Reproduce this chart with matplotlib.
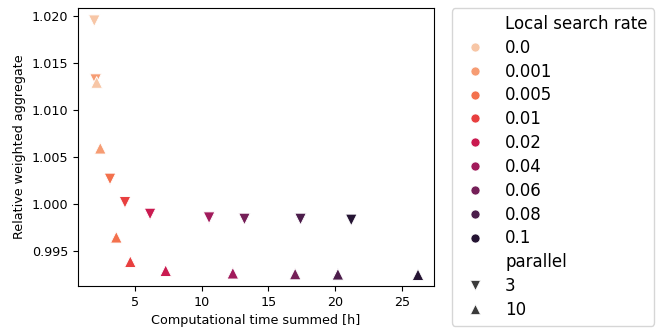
import matplotlib
matplotlib.use("Agg")
import matplotlib.pyplot as plt
from matplotlib.lines import Line2D
import seaborn as sns
import pandas as pd

rates = ["0.0", "0.001", "0.005", "0.01", "0.02", "0.04", "0.06", "0.08", "0.1"]
time_p3 = [1.95, 2.05, 3.13, 4.25, 6.13, 10.55, 13.2, 17.4, 21.2]
agg_p3 = [1.01947, 1.0132, 1.00263, 1.00015, 0.9989, 0.99851, 0.99837, 0.99837, 0.99827]
time_p10 = [2.13, 2.4, 3.6, 4.65, 7.3, 12.33, 17.0, 20.2, 26.2]
agg_p10 = [1.0129, 1.0059, 0.99643, 0.99383, 0.99287, 0.9926, 0.99252, 0.99249, 0.99245]
parallel_levels = ["3", "10"]

df = pd.DataFrame({
    "time": time_p3 + time_p10,
    "agg": agg_p3 + agg_p10,
    "Local search rate": rates + rates,
    "parallel": [parallel_levels[0]] * len(rates) + [parallel_levels[1]] * len(rates),
})

palette = sns.color_palette("rocket_r", len(rates))
markers = {"3": "v", "10": "^"}

fig = plt.figure(figsize=(6.57, 3.30), dpi=100)
ax = fig.add_axes([0.1187, 0.1333, 0.5419, 0.8415])
sns.scatterplot(data=df, x="time", y="agg", hue="Local search rate", style="parallel",
                markers=markers, palette=palette, s=70, ax=ax,
                hue_order=rates, style_order=parallel_levels, legend=False)
ax.set_xlabel("Computational time summed [h]", fontsize=9.2)
ax.set_ylabel("Relative weighted aggregate", fontsize=9.2)
ax.set_xlim(0.73, 27.4)
ax.set_ylim(0.99124, 1.02079)
ax.set_xticks([5, 10, 15, 20, 25])
ax.set_yticks([0.995, 1.000, 1.005, 1.010, 1.015, 1.020])
ax.tick_params(labelsize=9.2)

handles = [Line2D([], [], linestyle="", marker="")]
labels = ["Local search rate"]
for r, c in zip(rates, palette):
    handles.append(Line2D([], [], linestyle="", marker="o", markersize=6.5, color=c, markeredgecolor="white", markeredgewidth=0.5))
    labels.append(r)
handles.append(Line2D([], [], linestyle="", marker=""))
labels.append("parallel")
for p in parallel_levels:
    handles.append(Line2D([], [], linestyle="", marker=markers[p], markersize=6.5, color="#3b3b3b", markeredgecolor="white", markeredgewidth=0.5))
    labels.append(p)

ax.legend(handles, labels, loc="upper left", bbox_to_anchor=(1.05, 1.0), fontsize=12,
          borderaxespad=0, labelspacing=0.35)
fig.savefig("out.png", dpi=100)
